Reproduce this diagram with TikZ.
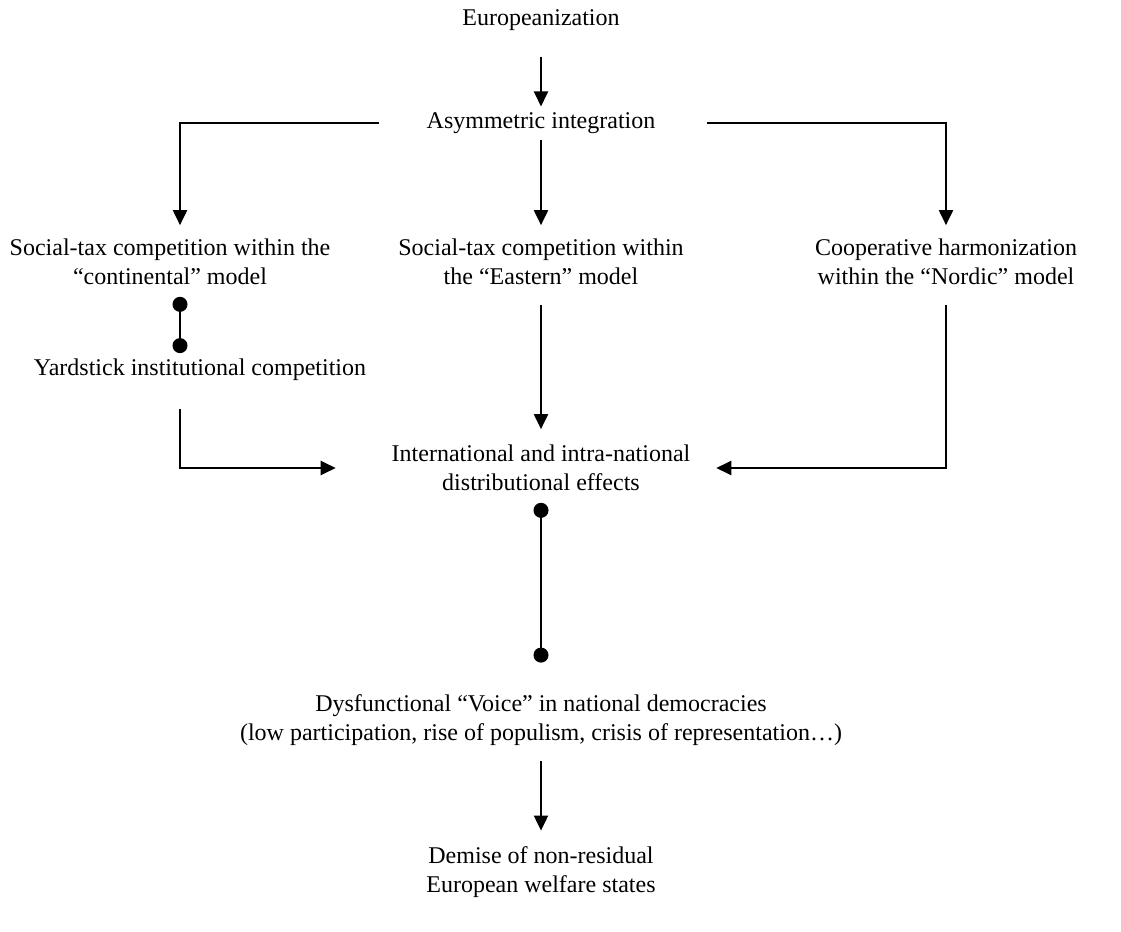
\documentclass[tikz,border=0pt]{standalone}
\usepackage{fontspec}
\setmainfont{Liberation Serif}
\usetikzlibrary{arrows.meta, calc, positioning}

\tikzset{
  txt/.style={inner sep=0pt, outer sep=0pt, align=center, font=\fontsize{12}{14.4}\selectfont},
  arr/.style={line width=1pt, -{Triangle[length=7.5pt, width=7pt]}},
  dotline/.style={line width=1pt, {Circle[length=7.5pt]}-{Circle[length=7.5pt]}}
}

\begin{document}
\begin{tikzpicture}[x=0.5pt, y=-0.5pt]
\useasboundingbox (0,0) rectangle (1121,932);

% Boxes of text
\node[txt] (euro) at (541,20) {Europeanization};
\node[txt] (asym) at (541,123) {Asymmetric integration};
\node[txt] (cont) at (170,262) {Social-tax competition within the\\“continental” model};
\node[txt] (east) at (541,262) {Social-tax competition within\\the “Eastern” model};
\node[txt] (nord) at (946,262) {Cooperative harmonization\\within the “Nordic” model};
\node[txt] (yard) at (200,370) {Yardstick institutional competition};
\node[txt] (dist) at (541,468) {International and intra-national\\distributional effects};
\node[txt] (voice) at (541,720) {Dysfunctional “Voice” in national democracies\\(low participation, rise of populism, crisis of representation…)};
\node[txt] (demise) at (541,872) {Demise of non-residual\\European welfare states};

% Top arrows
\draw[arr, shorten <=13pt, shorten >=3pt] (euro) -- (asym);
\draw[arr, shorten <=3pt, shorten >=7pt] (asym) -- (east);
\draw[arr, shorten >=7pt] ([xshift=-24pt]asym.west) -| ([xshift=5pt]cont.north);
\draw[arr, shorten >=7pt] ([xshift=26pt]asym.east) -| (nord.north);

% Links with dots
\draw[dotline, shorten <=6pt, shorten >=3pt] ([xshift=5pt]cont.south) -- ([xshift=-10pt]yard.north);
\draw[dotline, shorten <=6pt, shorten >=16pt] (dist.south) -- (voice.north);

% Into the effects
\draw[arr, shorten <=10pt, shorten >=8pt] (east) -- (dist);
\draw[arr, shorten <=14pt] ([xshift=-10pt]yard.south) |- ([xshift=-28pt]dist.west);
\draw[arr, shorten <=10pt] (nord.south) |- ([xshift=13pt]dist.east);

% Bottom arrow
\draw[arr, shorten <=8pt, shorten >=8pt] (voice) -- (demise);
\end{tikzpicture}
\end{document}
